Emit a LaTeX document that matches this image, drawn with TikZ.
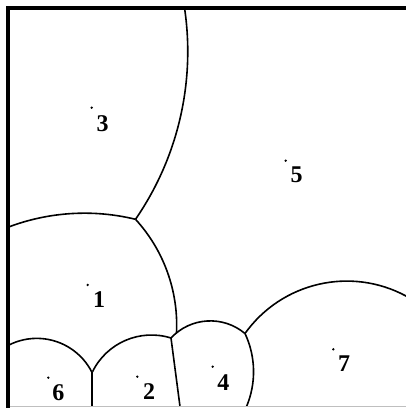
\documentclass[tikz,border=0pt]{standalone}
\usepackage{fontspec}
\setmainfont{Liberation Serif}
\begin{document}
\begin{tikzpicture}[x=1pt,y=1pt,
  edge/.style={line width=1.6pt, line join=round},
  framebar/.style={line width=4pt, line join=miter},
  site/.style={circle, fill=black, inner sep=0pt, minimum size=2.6pt},
  lab/.style={inner sep=0pt, font=\fontsize{24}{24}\selectfont\bfseries}]
\useasboundingbox (0,0) rectangle (406,408);
\fill[white] (0,0) rectangle (406,408);
% vertices of the diagram
\coordinate (v135) at (135.5,188.7);
\coordinate (v124) at (171,70);
\coordinate (v457) at (245,74.5);
\coordinate (v126) at (92,35.6);
\coordinate (b24) at (180,1.5);
\coordinate (b26) at (92,1.5);
% edges
\draw[edge] (v135) arc[start angle=-34.6, end angle=8.6, radius=295.5];
\draw[edge] (v135) arc[start angle=76.3, end angle=110.8, radius=215.3];
\draw[edge] (v135) arc[start angle=42.5, end angle=-2.8, radius=156.8];
\draw[edge] (v124) arc[start angle=137, end angle=50, radius=53.8];
\draw[edge] (v457) arc[start angle=25.2, end angle=-22.8, radius=89.8];
\draw[edge] (v457) arc[start angle=144.5, end angle=61.6, radius=125];
\draw[edge] (v124) -- (b24);
\draw[edge] (v124) arc[start angle=72.7, end angle=153.8, radius=65.7];
\draw[edge] (v126) -- (b26);
\draw[edge] (v126) arc[start angle=26.7, end angle=117.5, radius=61.8];
% frame
\draw[black!25, line width=1pt] (8,1.2) -- (406,1.2);
\draw[framebar] (8,0) -- (8,400) -- (406,400);
% sites
\node[site] (s3) at (91.7,300.3) {};
\node[site] (s5) at (285.7,247.3) {};
\node[site] (s1) at (87.7,123) {};
\node[site] (s6) at (48.3,30.3) {};
\node[site] (s2) at (137.3,31.3) {};
\node[site] (s4) at (212.7,41.3) {};
\node[site] (s7) at (333.3,58.7) {};
% labels
\node[lab] (n3) at (102.7,284) {3};
\node[lab] (n5) at (296.7,233) {5};
\node[lab] (n1) at (99,108) {1};
\node[lab] (n6) at (58.3,15.3) {6};
\node[lab] (n2) at (149,16.3) {2};
\node[lab] (n4) at (223.3,25.3) {4};
\node[lab] (n7) at (344,44.7) {7};
\end{tikzpicture}
\end{document}
